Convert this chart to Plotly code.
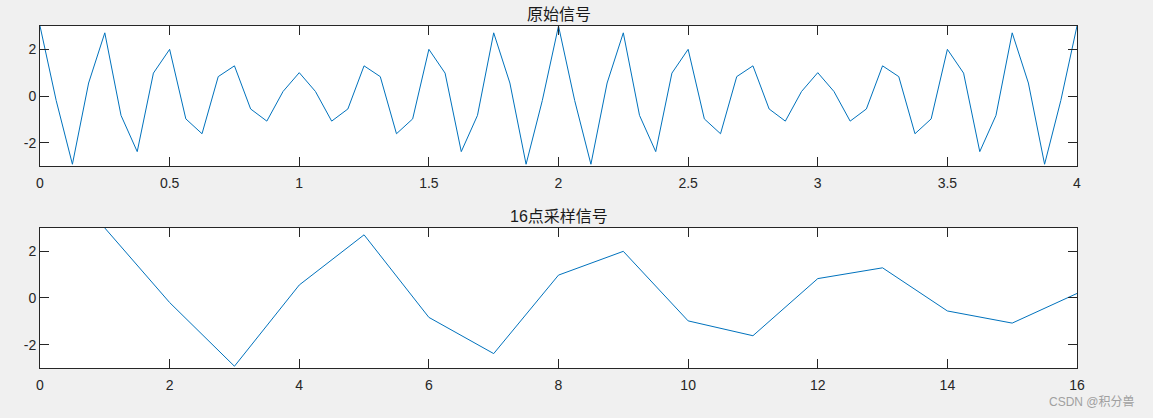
import plotly.graph_objects as go
from plotly.subplots import make_subplots

# original signal, 16 samples per second over 0..4 s
t_orig = [i / 16 for i in range(65)]
x_orig = [
    3.0, -0.195, -2.924, 0.556, 2.707, -0.831, -2.383, 0.981,
    2.0, -0.981, -1.617, 0.831, 1.293, -0.556, -1.076, 0.195,
    1.0, 0.195, -1.076, -0.556, 1.293, 0.831, -1.617, -0.981,
    2.0, 0.981, -2.383, -0.831, 2.707, 0.556, -2.924, -0.195,
    3.0, -0.195, -2.924, 0.556, 2.707, -0.831, -2.383, 0.981,
    2.0, -0.981, -1.617, 0.831, 1.293, -0.556, -1.076, 0.195,
    1.0, 0.195, -1.076, -0.556, 1.293, 0.831, -1.617, -0.981,
    2.0, 0.981, -2.383, -0.831, 2.707, 0.556, -2.924, -0.195,
    3.0,
]

# 16-point sampled signal
k_samp = list(range(1, 17))
x_samp = [
    3.0, -0.195, -2.924, 0.556, 2.707, -0.831, -2.383, 0.981,
    2.0, -0.981, -1.617, 0.831, 1.293, -0.556, -1.076, 0.195,
]

titles = ["原始信号", "16点采样信号"]
y_ticks = [-2, 0, 2]
y_ticktext = ["-2", "0", "2"]
line_color = "#0072BD"
axis_color = "#262626"
font_family = "Arial, 'Liberation Sans', 'Noto Sans CJK SC', sans-serif"

fig = make_subplots(rows=2, cols=1, vertical_spacing=0.1812)
fig.add_trace(
    go.Scatter(x=t_orig, y=x_orig, mode="lines",
               line=dict(color=line_color, width=1), hoverinfo="skip"),
    row=1, col=1,
)
fig.add_trace(
    go.Scatter(x=k_samp, y=x_samp, mode="lines",
               line=dict(color=line_color, width=1), hoverinfo="skip"),
    row=2, col=1,
)

axis_common = dict(
    showgrid=False,
    zeroline=False,
    showline=True,
    linecolor=axis_color,
    linewidth=1,
    mirror="ticks",
    ticks="inside",
    ticklen=9,
    tickcolor=axis_color,
    tickfont=dict(family=font_family, size=14, color=axis_color),
)

fig.update_xaxes(axis_common, ticklabelstandoff=4)
fig.update_yaxes(axis_common, range=[-3, 3], tickvals=y_ticks, ticktext=y_ticktext)
fig.update_xaxes(range=[0, 4], tickvals=[0, 0.5, 1, 1.5, 2, 2.5, 3, 3.5, 4],
                 ticktext=["0", "0.5", "1", "1.5", "2", "2.5", "3", "3.5", "4"],
                 row=1, col=1)
fig.update_xaxes(range=[0, 16], tickvals=list(range(0, 17, 2)), row=2, col=1)

fig.update_layout(
    width=1153,
    height=418,
    margin=dict(l=40, r=76, t=26, b=50),
    paper_bgcolor="#f0f0f0",
    plot_bgcolor="white",
    showlegend=False,
    font=dict(family=font_family),
)
fig.update_layout(
    yaxis=dict(domain=[0.5906, 1.0]),
    yaxis2=dict(domain=[0.0, 0.4094]),
)

for title, yref in zip(titles, ["y domain", "y2 domain"]):
    fig.add_annotation(
        text=title, xref="paper", yref=yref, x=0.5, y=1.0,
        xanchor="center", yanchor="bottom", yshift=1, showarrow=False,
        font=dict(family=font_family, size=16, color="#1a1a1a"),
    )

fig.add_annotation(
    text="CSDN @积分兽", xref="paper", yref="paper", x=1.0, y=0.0,
    xanchor="right", yanchor="top", xshift=60, yshift=-25, showarrow=False,
    font=dict(family="Arial, 'Noto Sans CJK SC', sans-serif", size=12, color="#a0a0a0"),
)

fig.write_html(
    "out.html",
    config={"displayModeBar": False},
    post_script="document.body.style.margin='0';document.body.style.background='#f0f0f0';",
)
